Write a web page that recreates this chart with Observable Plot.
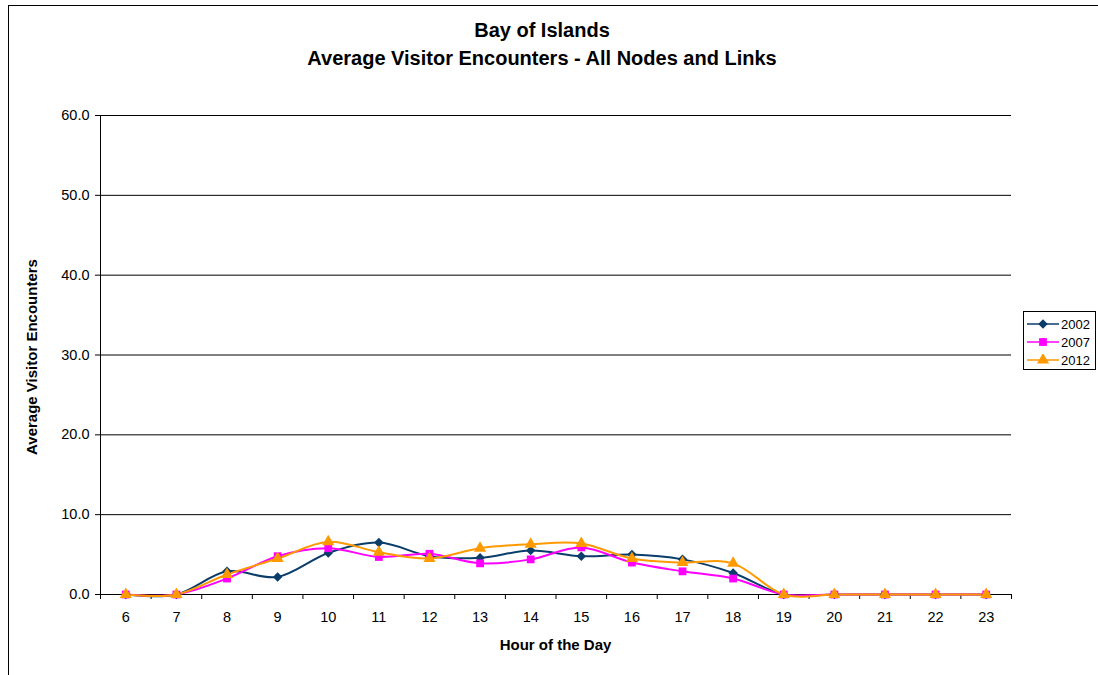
<!DOCTYPE html>
<html>
<head>
<meta charset="utf-8">
<script src="https://cdn.jsdelivr.net/npm/d3@7"></script>
<script src="https://cdn.jsdelivr.net/npm/@observablehq/plot@0.6"></script>
<style>
  html, body { margin: 0; padding: 0; background: #fff; overflow: hidden; }
  body { width: 1098px; height: 675px; position: relative; font-family: "Liberation Sans", Arial, sans-serif; }
  #frame { position: absolute; left: 8px; top: 5px; width: 1200px; height: 800px; border: 1px solid #000; box-sizing: border-box; }
  #chart { position: absolute; left: 0; top: 0; }
  .title { position: absolute; left: 0; width: 1084px; text-align: center; font-weight: bold; font-size: 20px; line-height: 24px; color: #000; }
  #xlabel { position: absolute; left: 100px; width: 911px; top: 636px; text-align: center; font-weight: bold; font-size: 15px; line-height: 18px; }
  #ylabel { position: absolute; left: 31px; top: 357px; transform: translate(-50%, -50%) rotate(-90deg); white-space: nowrap; font-weight: bold; font-size: 15px; }
  #legend { position: absolute; left: 1023px; top: 311px; width: 73px; height: 59px; border: 1px solid #000; box-sizing: border-box; padding-top: 3px; }
  .item { display: flex; align-items: center; height: 18px; font-size: 13px; }
  .item svg { display: block; margin-left: 3px; margin-right: 2px; }
</style>
</head>
<body>
<div id="frame"></div>
<div id="chart"></div>
<div class="title" style="top:18px">Bay of Islands</div>
<div class="title" style="top:46px">Average Visitor Encounters - All Nodes and Links</div>
<div id="xlabel">Hour of the Day</div>
<div id="ylabel">Average Visitor Encounters</div>
<div id="legend"></div>
<script>
// Hours of the day shown on the x axis
const hours = [6, 7, 8, 9, 10, 11, 12, 13, 14, 15, 16, 17, 18, 19, 20, 21, 22, 23];

// Average visitor encounters per hour, one series per survey year
const years = ["2002", "2007", "2012"];
const v2002 = [0, 0, 2.9, 2.2, 5.2, 6.5, 4.8, 4.6, 5.5, 4.8, 5.0, 4.4, 2.7, 0, 0, 0, 0, 0];
const v2007 = [0, 0, 2.0, 4.8, 5.8, 4.7, 5.1, 3.9, 4.4, 5.9, 4.0, 2.9, 2.0, 0, 0, 0, 0, 0];
const v2012 = [0, 0, 2.5, 4.5, 6.6, 5.3, 4.5, 5.8, 6.3, 6.4, 4.5, 4.0, 3.9, 0, 0, 0, 0, 0];

// Y axis tick values
const yTicks = [0, 10, 20, 30, 40, 50, 60];

const colors = ["#0B3D6B", "#FF00FF", "#FF9900"];
const symbols = ["diamond2", "square", "triangle"];
const radii = [4.3, 4.4, 4.5];

const seriesValues = [v2002, v2007, v2012];
const rows = years.flatMap((year, i) =>
  hours.map((hour, j) => ({year, hour, value: seriesValues[i][j]}))
);

// Category boundaries for the tick marks between hours
const bounds = hours.map(h => h - 0.5).concat([hours[hours.length - 1] + 0.5]);

const marks = [
  Plot.ruleY(yTicks.filter(d => d > 0), {stroke: "#000", strokeWidth: 1}),
  Plot.axisY({ticks: yTicks, tickFormat: d => d.toFixed(1), tickSize: 5, tickPadding: 6, fontSize: 14.5, label: null, stroke: "#000"}),
  Plot.axisX({ticks: bounds, tickFormat: () => "", tickSize: 5, label: null, stroke: "#000"}),
  Plot.axisX({ticks: hours, tickFormat: d => String(d), tickSize: 0, tickPadding: 17, fontSize: 14.5, label: null}),
  Plot.ruleX([bounds[0]], {stroke: "#000", strokeWidth: 1}),
  Plot.ruleY([0], {stroke: "#000", strokeWidth: 1})
];

years.forEach((year, i) => {
  const d = rows.filter(r => r.year === year);
  marks.push(Plot.line(d, {x: "hour", y: "value", stroke: colors[i], strokeWidth: 2, curve: "cardinal", tension: 0}));
});
years.forEach((year, i) => {
  const d = rows.filter(r => r.year === year);
  marks.push(Plot.dot(d, {x: "hour", y: "value", symbol: () => symbols[i], fill: colors[i], stroke: "none", r: radii[i]}));
});

const chart = Plot.plot({
  width: 1098,
  height: 675,
  marginLeft: 100,
  marginRight: 87,
  marginTop: 115,
  marginBottom: 81,
  style: {background: "transparent", fontFamily: "Liberation Sans, Arial, sans-serif", color: "#000"},
  x: {type: "linear", domain: [bounds[0], bounds[bounds.length - 1]]},
  y: {domain: [0, 60]},
  symbol: {domain: symbols, range: symbols},
  marks
});
document.getElementById("chart").appendChild(chart);

// Legend: line with marker, then the year
const legend = d3.select("#legend");
years.forEach((year, i) => {
  const item = legend.append("div").attr("class", "item");
  const svg = item.append("svg").attr("width", 32).attr("height", 12);
  svg.append("line").attr("x1", 0).attr("x2", 32).attr("y1", 6).attr("y2", 6)
    .attr("stroke", colors[i]).attr("stroke-width", 1.5);
  const sym = {diamond2: d3.symbolDiamond2, square: d3.symbolSquare, triangle: d3.symbolTriangle}[symbols[i]];
  svg.append("path").attr("transform", "translate(16,6)")
    .attr("d", d3.symbol(sym, Math.PI * radii[i] * radii[i])())
    .attr("fill", colors[i]);
  item.append("span").text(year);
});
</script>
</body>
</html>
